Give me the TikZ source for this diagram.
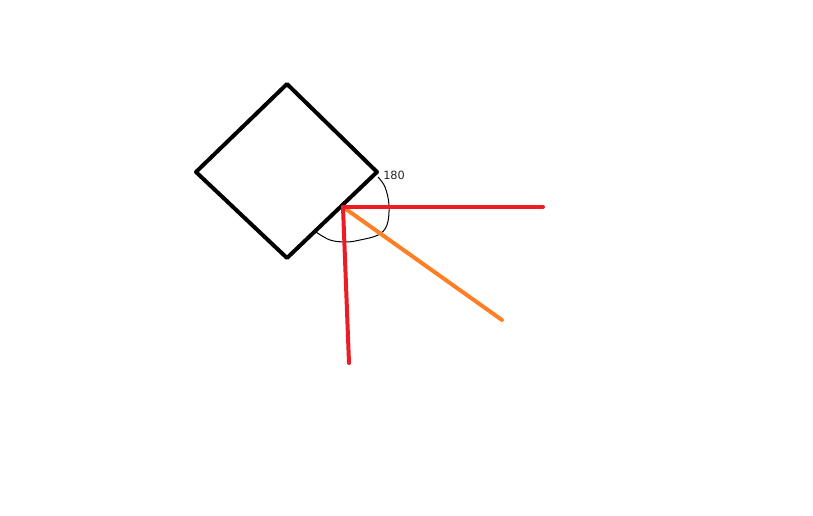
\documentclass[tikz,border=0pt]{standalone}
\usepackage{fontspec}
\setmainfont{DejaVu Sans}
\definecolor{paintred}{RGB}{237,28,36}
\definecolor{paintorange}{RGB}{255,127,39}
\begin{document}
\begin{tikzpicture}[x=0.75pt,y=-0.75pt,
  thick line/.style={line width=3pt,line cap=round,line join=round},
  thin curve/.style={line width=0.75pt}]
\useasboundingbox (0,0) rectangle (813,516);
\coordinate (top) at (287,84);
\coordinate (left) at (196,172);
\coordinate (bottom) at (287,258);
\coordinate (right) at (377,172);
\coordinate (o) at (343,207);
\coordinate (h) at (543,207);
\coordinate (v) at (349,363);
\coordinate (d) at (502,320);
\draw[thick line,black] (top) -- (right) -- (bottom) -- (left) -- cycle;
\draw[thin curve] plot[smooth,tension=0.6] coordinates {(378,177) (385,187) (389,205) (387,225) (378,235) (360,240) (346,242) (330,240) (316,232)};
\draw[thick line,paintorange] (o) -- (d);
\draw[thick line,paintred] (o) -- (h);
\draw[thick line,paintred] (o) -- (v);
\node[anchor=west,inner sep=0pt,font=\fontsize{8.5pt}{10pt}\selectfont,text=black!85] (lbl) at (383,175) {180};
\end{tikzpicture}
\end{document}
